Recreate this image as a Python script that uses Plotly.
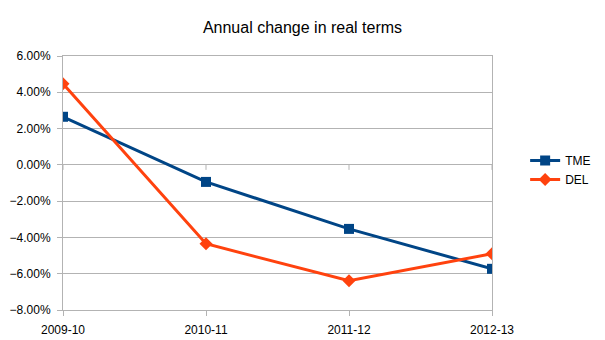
import plotly.graph_objects as go

categories = ["2009-10", "2010-11", "2011-12", "2012-13"]
tme = [0.0265, -0.0094, -0.0353, -0.0573]
del_values = [0.0447, -0.0435, -0.0639, -0.0490]
y_ticks = [-0.08, -0.06, -0.04, -0.02, 0.0, 0.02, 0.04, 0.06]

grid = "#b3b3b3"
font_family = "Liberation Sans, Arial, sans-serif"

fig = go.Figure()
fig.add_trace(go.Scatter(
    x=categories, y=tme, name="TME", mode="lines+markers",
    line=dict(color="#004586", width=3),
    marker=dict(symbol="square", size=10, color="#004586"),
))
fig.add_trace(go.Scatter(
    x=categories, y=del_values, name="DEL", mode="lines+markers",
    line=dict(color="#ff420e", width=3),
    marker=dict(symbol="diamond", size=10, color="#ff420e"),
))

# small downward tick marks where each category meets the zero line
for i in range(len(categories)):
    fig.add_shape(
        type="line", xref="x", x0=i, x1=i,
        yref="y", ysizemode="pixel", yanchor=0, y0=0, y1=-5,
        line=dict(color=grid, width=1), layer="below",
    )

fig.update_layout(
    width=605, height=340,
    margin=dict(l=63, r=113, t=56, b=30, autoexpand=False),
    paper_bgcolor="white", plot_bgcolor="white",
    font=dict(family=font_family, size=12, color="#000000"),
    title=dict(text="Annual change in real terms", x=0.5, xanchor="center",
               y=1 - 27 / 340, yanchor="middle",
               font=dict(size=16, family=font_family, color="#000000")),
    showlegend=True,
    legend=dict(xref="container", yref="container",
                x=0.868, xanchor="left", y=0.5, yanchor="middle",
                font=dict(size=12), itemwidth=30, tracegroupgap=2),
    xaxis=dict(type="category", range=[0, 3], showgrid=False,
               showline=True, linecolor=grid, linewidth=1, mirror=True,
               ticks="outside", ticklen=5, tickcolor=grid,
               tickfont=dict(size=12), zeroline=False, automargin=False,
               ticklabelstandoff=4),
    yaxis=dict(range=[-0.08, 0.06], tickvals=y_ticks, tickformat=".2%",
               showgrid=True, gridcolor=grid, gridwidth=1,
               showline=True, linecolor=grid, linewidth=1, mirror=True,
               ticks="outside", ticklen=5, tickcolor=grid,
               zeroline=True, zerolinecolor=grid, zerolinewidth=1,
               tickfont=dict(size=12), automargin=False,
               ticklabelstandoff=4),
)

fig.write_html("out.html")
